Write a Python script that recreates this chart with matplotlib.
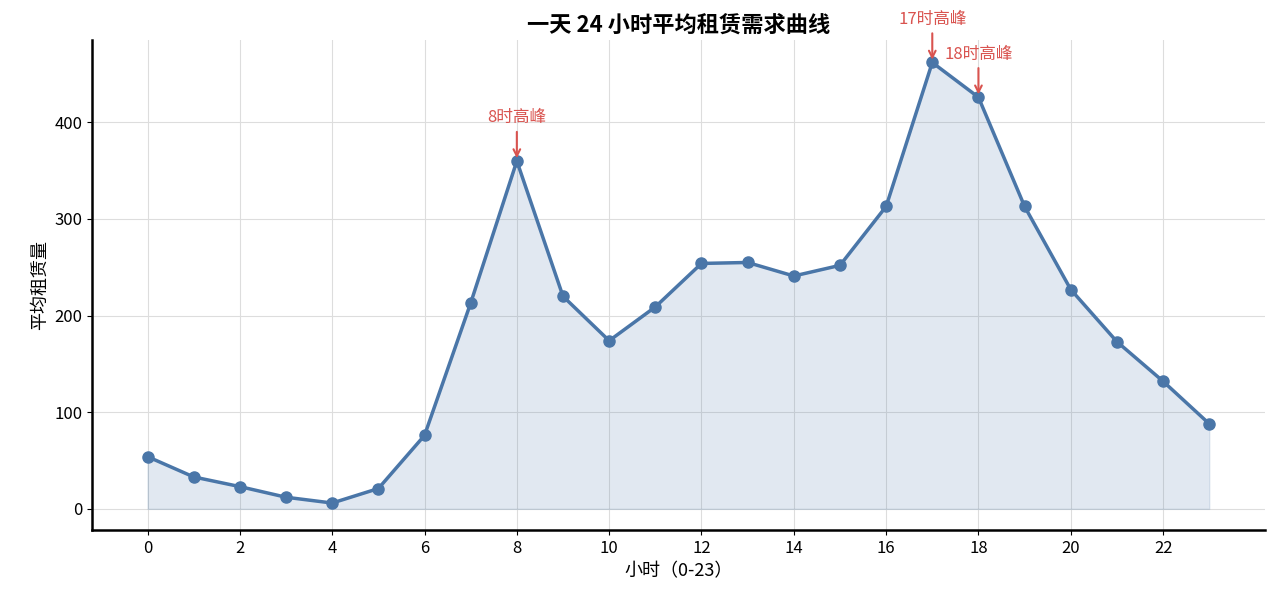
import matplotlib
matplotlib.use("Agg")
import matplotlib.pyplot as plt

plt.rcParams['font.family'] = ['Noto Sans CJK SC', 'DejaVu Sans']

hours = list(range(24))
demand = [54, 33, 23, 12, 6, 21, 76, 213, 360, 220, 174, 209,
          254, 255, 241, 252, 313, 462, 426, 313, 227, 173, 132, 88]
peaks = [8, 17, 18]
peak_labels = ["8时高峰", "17时高峰", "18时高峰"]
peak_offsets = [(0, 25), (0, 25), (0, 25)]

color = "#4a76a8"
fig, ax = plt.subplots(figsize=(12.8, 6.01), dpi=100)
fig.subplots_adjust(left=0.072, right=0.988, top=0.933, bottom=0.118)

ax.fill_between(hours, demand, color=color, alpha=0.16)
ax.plot(hours, demand, color=color, lw=2.5, marker='o', markersize=8)

for h, lab, off in zip(peaks, peak_labels, peak_offsets):
    ax.annotate(lab, xy=(h, demand[h]), xytext=off, textcoords='offset points',
                ha='center', va='bottom', color='#d9534f', fontsize=12,
                arrowprops=dict(arrowstyle='->', color='#d9534f', lw=1.5))

ax.set_xticks(range(0, 24, 2))
ax.set_yticks([0, 100, 200, 300, 400])
ax.set_xlim(-1.2, 24.2)
ax.set_ylim(-22, 485)
ax.grid(True, color='#dddddd', lw=0.8)
ax.set_axisbelow(True)
for s in ['top', 'right']:
    ax.spines[s].set_visible(False)
for s in ['left', 'bottom']:
    ax.spines[s].set_linewidth(1.8)
ax.tick_params(labelsize=12)
ax.set_xlabel("小时（0-23）", fontsize=13)
ax.set_ylabel("平均租赁量", fontsize=13)
ax.set_title("一天 24 小时平均租赁需求曲线", fontsize=16, fontweight='bold')

fig.savefig("out.png", dpi=100)
